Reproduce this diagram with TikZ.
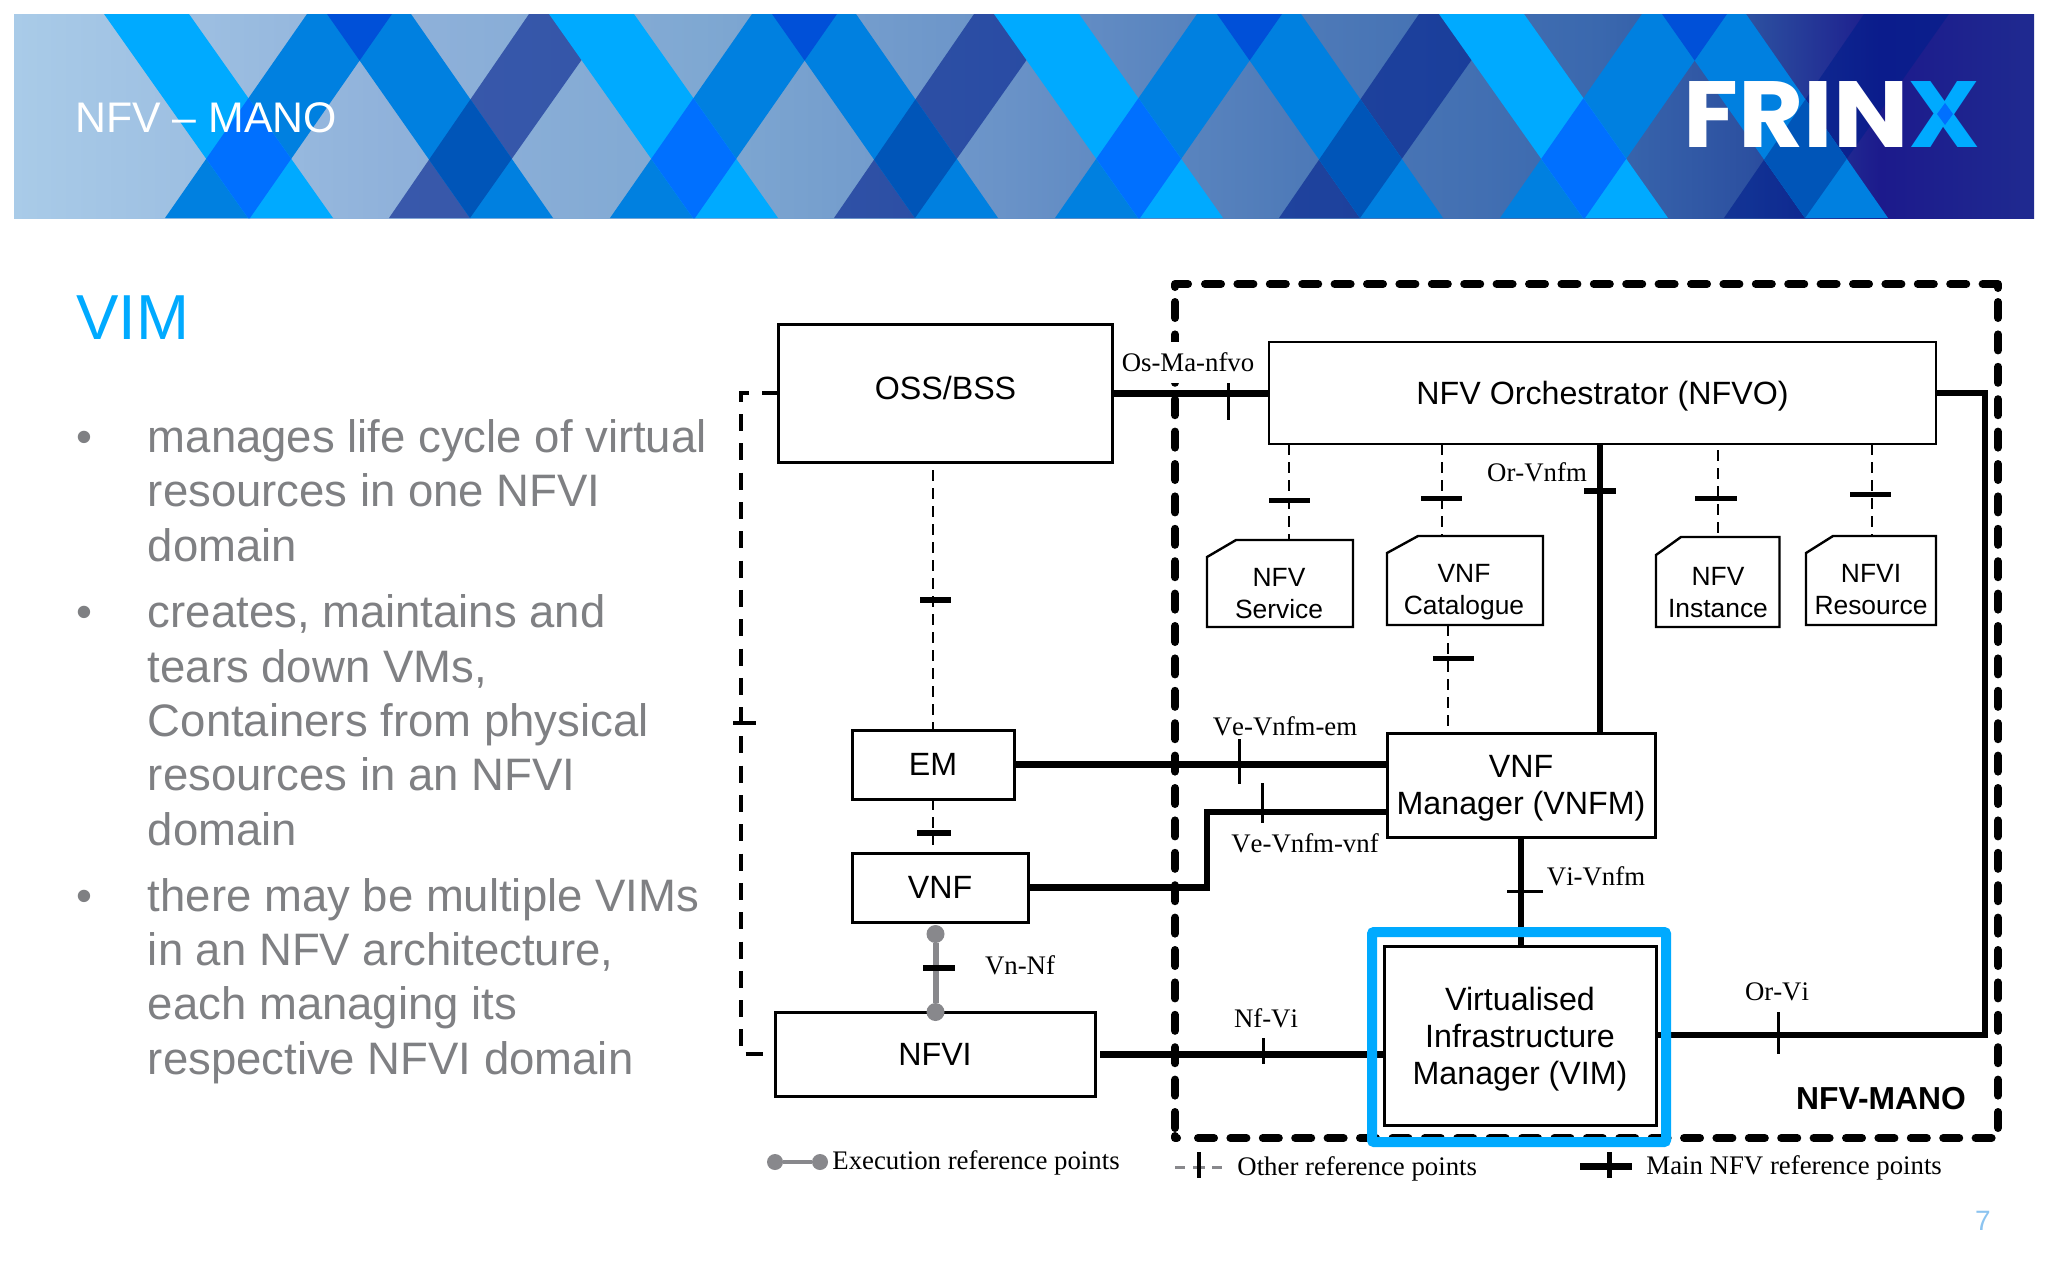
\documentclass[tikz,border=0pt]{standalone}
\usepackage{fontspec}
\usepackage{graphicx}
\setmainfont{Liberation Sans}
\newfontfamily\serifL[Kerning=Off]{Liberation Serif}
\newfontfamily\logofont{Poppins}
\usetikzlibrary{calc}
\definecolor{sky}{HTML}{00AAFF}
\definecolor{midb}{HTML}{0080E0}
\definecolor{ovAB}{HTML}{0070FF}
\definecolor{ovBC}{HTML}{0050D8}
\definecolor{ovCD}{HTML}{0055B8}
\definecolor{navy}{HTML}{001E8C}
\definecolor{txtgray}{HTML}{7F8083}
\definecolor{dotgray}{HTML}{88888C}
\definecolor{pageblue}{HTML}{8CC4F0}
\definecolor{g0}{HTML}{A9CBE8}
\definecolor{g1}{HTML}{8FB1DA}
\definecolor{g2}{HTML}{7FA8D2}
\definecolor{g3}{HTML}{6A93C8}
\definecolor{g4}{HTML}{4E7AB8}
\definecolor{g5}{HTML}{3A68AE}
\definecolor{g6}{HTML}{2C50A0}
\definecolor{g7}{HTML}{1C1A8C}
\definecolor{g8}{HTML}{1F2A90}
\pgfdeclarehorizontalshading{bannerbg}{100bp}{color(0bp)=(g0); color(25bp)=(g0); color(34.55bp)=(g1); color(42bp)=(g2); color(49.4bp)=(g3); color(56.85bp)=(g4); color(64.25bp)=(g5); color(68bp)=(g6); color(71.2bp)=(g7); color(75bp)=(g8); color(100bp)=(g8)}
\def\stA{(104+\k,14) -- (189+\k,14) -- (333+\k,218) -- (248+\k,218) -- cycle}
\def\stB{(307+\k,14) -- (392+\k,14) -- (250+\k,218) -- (165+\k,218) -- cycle}
\def\stC{(327+\k,14) -- (411+\k,14) -- (553+\k,218) -- (470+\k,218) -- cycle}
\def\stD{(529+\k,14) -- (614+\k,14) -- (470+\k,218) -- (389+\k,218) -- cycle}
\newcommand{\chamfer}[3]{\draw[docline] ($(#1.north west)+(#2,0)$) -- (#1.north east) -- (#1.south east) -- (#1.south west) -- ($(#1.north west)+(0,#3)$) -- cycle;}
\tikzset{
  sz/.style n args={2}{minimum width=0.5pt*#1, minimum height=0.5pt*#2},
  bx/.style={draw=black,line width=1.5pt,inner sep=0pt,outer sep=0pt,align=center,font=\fontsize{16.1}{18.5}\selectfont},
  docnode/.style={inner sep=0pt,outer sep=0pt},
  docline/.style={draw=black,line width=1.2pt},
  doctext/.style={inner sep=0pt,align=center,font=\fontsize{13.2}{16}\selectfont},
  lbl/.style={inner sep=0pt,font=\serifL\fontsize{13.4}{16}\selectfont},
  mainl/.style={draw=black,line width=3.2pt},
  refdash/.style={draw=black,line width=1pt,dash pattern=on 5.5pt off 3.5pt},
  thinTick/.style={draw=black,line width=1.5pt},
  midTick/.style={draw=black,line width=2.5pt},
  fatTick/.style={draw=black,line width=3pt},
  mano/.style={draw=black,line width=4pt,line cap=round,dash pattern=on 8pt off 8.2pt},
  manoc/.style={draw=black,line width=4pt,line cap=round,line join=round},
  body/.style={inner sep=0pt,anchor=base west,text=txtgray,font=\fontsize{22.75}{27}\selectfont},
  bul/.style={inner sep=0pt,anchor=base,text=txtgray,font=\fontsize{22.75}{27}\selectfont},
  gdot/.style={circle,fill=dotgray,inner sep=0pt,minimum size=#1}
}
\begin{document}
\begin{tikzpicture}[x=0.5pt,y=-0.5pt]
\useasboundingbox (0,0) rectangle (2048,1280);
\fill[white] (0,0) rectangle (2048,1280);
% ---------- banner ----------
\begin{scope}
\clip (14,14) rectangle (2034,218);
\shade[shading=bannerbg] (14,14) rectangle (2034,218);
\foreach \k in {0,445,890,1335}{ \fill[navy,opacity=.6] \stD; }
\foreach \k in {0,445,890,1335}{
  \fill[midb] \stB; \fill[midb] \stC;
  \begin{scope}\clip \stB; \fill[ovBC] \stC; \end{scope}
  \begin{scope}\clip \stC; \fill[ovCD] \stD; \end{scope}
}
\foreach \k in {0,445,890,1335}{
  \fill[sky] \stA;
  \begin{scope}\clip \stA; \fill[ovAB] \stB; \end{scope}
}
\end{scope}
\node[inner sep=0pt,anchor=base west,text=white,font=\fontsize{21.4}{25}\selectfont] (title) at (75,132) {NFV – MANO};
\node[inner sep=0pt,anchor=base west,font=\logofont\bfseries\fontsize{47}{50}\selectfont] (logo) at (1683,147) {\scalebox{1.068}[1]{\textcolor{white}{FRIN}\textcolor{sky}{X}}};
\fill[ovAB] (1945,103) -- (1953,114) -- (1945,125) -- (1937,114) -- cycle;
% ---------- left text ----------
\node[inner sep=0pt,anchor=base west,text=sky,font=\fontsize{31.8}{36}\selectfont] (vimt) at (76,339) {VIM};
\node[bul] (b1) at (84.4,452) {•};
\node[bul] (b2) at (84.4,627) {•};
\node[bul] (b3) at (84.4,911) {•};
\node[body] (l1) at (147.5,452) {manages life cycle of virtual};
\node[body] (l2) at (147.5,506) {resources in one NFVI};
\node[body] (l3) at (147.5,561) {domain};
\node[body] (l4) at (147.5,627) {creates, maintains and};
\node[body] (l5) at (147.5,682) {tears down VMs,};
\node[body] (l6) at (147.5,736) {Containers from physical};
\node[body] (l7) at (147.5,790) {resources in an NFVI};
\node[body] (l8) at (147.5,845) {domain};
\node[body] (l9) at (147.5,911) {there may be multiple VIMs};
\node[body] (l10) at (147.5,965) {in an NFV architecture,};
\node[body] (l11) at (147.5,1019) {each managing its};
\node[body] (l12) at (147.5,1074) {respective NFVI domain};
% ---------- NFV-MANO frame ----------
\draw[mano] (1175,302) -- (1175,1130);
\draw[mano] (1998,302) -- (1998,1130);
\draw[mano] (1205,284) -- (1984,284);
\draw[mano] (1198,1138) -- (1992,1138);
\draw[manoc] (1175,287) -- (1175,284) -- (1188,284);
\draw[manoc] (1984,284) -- (1998,284) -- (1998,288);
\draw[manoc] (1175,1136) -- (1175,1138) -- (1177,1138);
% ---------- boxes ----------
\node[bx,sz={334}{138},text height=10pt,text depth=4pt] (oss) at (945.5,393) {OSS/BSS};
\node[bx,sz={667}{102},line width=1.2pt,text height=12pt,text depth=1pt] (nfvo) at (1602.5,393) {NFV Orchestrator (NFVO)};
\node[bx,sz={162}{69}] (em) at (933,764.5) {EM};
\node[bx,sz={176}{69}] (vnf) at (940,887.5) {VNF};
\node[bx,sz={320}{84}] (nfvi) at (935,1054) {NFVI};
\node[bx,sz={268}{104}] (vnfm) at (1521,785) {\rule{0pt}{14.5pt}VNF\\Manager (VNFM)};
\node[bx,sz={272}{179}] (vim) at (1520,1035.5) {\rule{0pt}{15.4pt}Virtualised\\Infrastructure\\Manager (VIM)};
% documents
\node[docnode,sz={146}{87}] (nfvs) at (1280,583.5) {};
\node[docnode,sz={156}{89}] (vcat) at (1465,580.5) {};
\node[docnode,sz={123.5}{90}] (ninst) at (1717.7,582) {};
\node[docnode,sz={130}{89}] (nres) at (1871,580.5) {};
\chamfer{nfvs}{29}{17}
\chamfer{vcat}{31}{17}
\chamfer{ninst}{25}{18}
\chamfer{nres}{27}{17}
\node[doctext] (nfvst) at (1279,594) {NFV\\Service};
\node[doctext] (vcatt) at (1464,592.5) {VNF\\Catalogue};
\node[doctext] (ninstt) at (1718,593) {NFV\\Instance};
\node[doctext] (nrest) at (1871,590) {NFVI\\Resource};
% ---------- named x positions ----------
\coordinate (sA) at (1289,0);
\coordinate (sB) at (1442,0);
\coordinate (sC) at (1448,0);
\coordinate (sD) at (1717.5,0);
\coordinate (sE) at (1871.5,0);
\coordinate (orx) at (1600,0);
\coordinate (b1) at (1207,887.5);
\coordinate (b2) at (1207,812);
\coordinate (c1) at (1985,393);
\coordinate (c2) at (1985,1035);
\coordinate (ltop) at (741,393);
\coordinate (lbot) at (741,1054);
% ---------- other reference points (dashed) ----------
\draw[draw=black,line width=2pt,dash pattern=on 8.5pt off 6.15pt] (oss.west) -- (ltop) -- (lbot) -- (nfvi.west);
\draw[midTick,line width=2pt] (733,723) -- (756,723);
\draw[refdash,shorten <=4pt] (oss.south -| em.north) -- (em.north);
\draw[fatTick] (920,600) -- (951,600);
\draw[refdash,shorten >=4pt] (em.south) -- (em.south |- vnf.north);
\draw[fatTick] (917,833) -- (951,833);
\draw[refdash] (nfvo.south -| sA) -- (nfvs.north -| sA);
\draw[midTick] (1269,500) -- (1310,500);
\draw[refdash] (nfvo.south -| sB) -- (vcat.north -| sB);
\draw[midTick] (1421,498) -- (1462,498);
\draw[refdash] (vcat.south -| sC) -- (vnfm.north -| sC);
\draw[midTick] (1433,658) -- (1474,658);
\draw[refdash,shorten <=3pt] (nfvo.south -| sD) -- (ninst.north -| sD);
\draw[midTick] (1695,498) -- (1737,498);
\draw[refdash] (nfvo.south -| sE) -- (nres.north -| sE);
\draw[midTick] (1850,494) -- (1891,494);
% ---------- main reference points ----------
\draw[mainl,line width=3.5pt] (oss.east) -- (nfvo.west);
\draw[thinTick] (1228,383) -- (1228,420);
\draw[mainl,line width=3.6pt] (em.east) -- (em.east -| vnfm.west);
\draw[thinTick] (1239,739) -- (1239,784);
\draw[mainl,line join=miter] (vnf.east) -- (b1) -- (b2) -- (b2 -| vnfm.west);
\draw[thinTick] (1262,783) -- (1262,823);
\draw[mainl,line width=3.5pt,shorten <=2.5pt] (nfvi.east) -- (nfvi.east -| vim.west);
\draw[thinTick] (1263,1038) -- (1263,1064);
\draw[mainl] (nfvo.south -| orx) -- (vnfm.north -| orx);
\draw[fatTick] (1584,491) -- (1616,491);
\draw[mainl] (vnfm.south) -- (vnfm.south |- vim.north);
\draw[thinTick] (1507,891) -- (1543,891);
\draw[mainl,line width=2.8pt,line join=miter] (nfvo.east) -- (c1) -- (c2) -- (c2 -| vim.east);
\draw[thinTick] (1778,1012) -- (1778,1054);
% ---------- execution reference point ----------
\node[gdot=18*0.5pt] (d1) at (935.5,934) {};
\node[gdot=18*0.5pt] (d2) at (935.5,1012) {};
\draw[draw=dotgray,line width=3pt] (d1) -- (d2);
\draw[fatTick] (923,968) -- (955,968);
% ---------- labels ----------
\node[lbl,fill=white,minimum width=66pt,minimum height=20.5pt] (lOs) at (1188,362.5) {Os-Ma-nfvo};
\node[lbl] (lOr) at (1537,472) {Or-Vnfm};
\node[lbl] (lVem) at (1285,726) {Ve-Vnfm-em};
\node[lbl] (lVvn) at (1305,843) {Ve-Vnfm-vnf};
\node[lbl] (lVi) at (1596,876) {Vi-Vnfm};
\node[lbl] (lVn) at (1020,965) {Vn-Nf};
\node[lbl] (lNf) at (1266,1018) {Nf-Vi};
\node[lbl] (lOv) at (1777,992) {Or-Vi};
\node[inner sep=0pt,font=\bfseries\fontsize{15.9}{18}\selectfont] (mano) at (1881,1099) {NFV-MANO};
% ---------- legend ----------
\node[gdot=16*0.5pt] (e1) at (775,1162) {};
\node[gdot=16*0.5pt] (e2) at (820,1162) {};
\draw[draw=dotgray,line width=2pt] (e1) -- (e2);
\node[lbl,anchor=west] (lE) at (832,1163) {Execution reference points};
\draw[draw=dotgray,line width=1.5pt] (1175,1167) -- (1185,1167);
\draw[draw=dotgray,line width=1.5pt] (1212,1167) -- (1222,1167);
\draw[draw=dotgray,line width=1.5pt] (1193,1167) -- (1205,1167);
\draw[draw=black,line width=1.8pt] (1199,1152) -- (1199,1178);
\node[lbl,anchor=west] (lO) at (1237,1169) {Other reference points};
\draw[draw=black,line width=3.5pt] (1580,1166) -- (1632,1166);
\draw[draw=black,line width=2.5pt] (1609.5,1152) -- (1609.5,1178);
\node[lbl,anchor=west] (lM) at (1646,1168) {Main NFV reference points};
\node[inner sep=0pt,text=pageblue,font=\fontsize{14}{16}\selectfont] (pg) at (1983,1221) {7};
% ---------- highlight ----------
\node[draw=sky,line width=5pt,rounded corners=1pt,inner sep=0pt,sz={294}{210}] (hl) at (1519,1037) {};
\end{tikzpicture}
\end{document}
